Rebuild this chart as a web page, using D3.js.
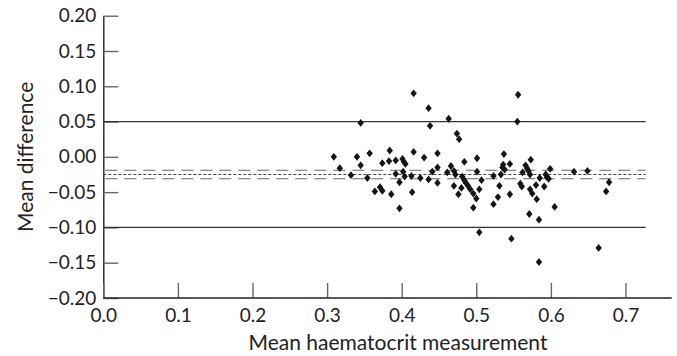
<!DOCTYPE html>
<html>
<head>
<meta charset="utf-8">
<script src="https://cdn.jsdelivr.net/npm/d3@7"></script>
<style>
  body { margin: 0; background: #fff; }
  text { font-family: Lato, "Noto Sans", sans-serif; fill: #222; }
</style>
</head>
<body>
<div id="chart"></div>
<script>
// Bland-Altman style plot: mean haematocrit vs mean difference

// x = mean haematocrit measurement, y = mean difference
const meanHct = [
  0.309, 0.317, 0.332, 0.340, 0.345, 0.345, 0.354, 0.357, 0.364, 0.371,
  0.374, 0.374, 0.383, 0.384, 0.386, 0.392, 0.392, 0.397, 0.397, 0.401,
  0.402, 0.403, 0.405, 0.404, 0.413, 0.414, 0.416, 0.416, 0.425, 0.430,
  0.436, 0.436, 0.438, 0.441, 0.448, 0.448, 0.448, 0.461, 0.463, 0.466,
  0.470, 0.472, 0.470, 0.474, 0.477, 0.476, 0.480, 0.481, 0.484, 0.484,
  0.486, 0.489, 0.492, 0.496, 0.496, 0.500, 0.501, 0.501, 0.504, 0.504,
  0.507, 0.523, 0.523, 0.529, 0.531, 0.533, 0.535, 0.537, 0.538, 0.545,
  0.545, 0.547, 0.555, 0.556, 0.559, 0.561, 0.562, 0.566, 0.568, 0.570,
  0.572, 0.573, 0.571, 0.572, 0.575, 0.580, 0.581, 0.584, 0.584, 0.585,
  0.591, 0.593, 0.595, 0.597, 0.599, 0.605, 0.631, 0.649, 0.664, 0.674,
  0.678, 0.536
];
const meanDiff = [
  0.000, -0.016, -0.026, 0.000, 0.048, -0.012, -0.030, 0.005, -0.049, -0.043,
  -0.048, -0.009, -0.006, 0.009, -0.053, -0.005, -0.024, -0.073, -0.036, -0.003,
  -0.021, -0.007, -0.010, -0.028, -0.027, -0.050, 0.090, 0.007, -0.030, -0.001,
  0.069, -0.032, 0.044, -0.021, 0.005, -0.015, -0.037, -0.022, 0.054, -0.013,
  -0.020, -0.025, -0.041, 0.033, 0.025, -0.053, -0.044, -0.028, -0.007, -0.033,
  -0.037, -0.041, -0.046, -0.052, -0.072, -0.059, -0.021, -0.002, -0.046, -0.107,
  -0.033, -0.027, -0.067, -0.057, -0.041, -0.025, -0.015, 0.004, -0.018, -0.010,
  -0.053, -0.116, 0.050, 0.088, -0.038, -0.042, -0.022, -0.012, -0.016, -0.020,
  -0.025, -0.004, -0.081, -0.046, -0.052, -0.040, -0.060, -0.089, -0.149, -0.030,
  -0.042, -0.025, -0.029, -0.031, -0.017, -0.071, -0.021, -0.020, -0.129, -0.049,
  -0.036, -0.011
];

// reference lines: limits of agreement (solid), mean (dotted), CI of mean (dashed)
const limitLines = [0.05, -0.10];
const meanLine = [-0.025];
const ciLines = [-0.019, -0.031];

const xTicks = [0, 0.1, 0.2, 0.3, 0.4, 0.5, 0.6, 0.7];
const yTicks = [-0.20, -0.15, -0.10, -0.05, 0.00, 0.05, 0.10, 0.15, 0.20];

const xAxisEnd = 0.762;   // where the x axis line stops
const refLineEnd = 0.727; // where the horizontal reference lines stop

const width = 677, height = 356;

const svg = d3.select('#chart').append('svg')
  .attr('width', width)
  .attr('height', height);

const x = d3.scaleLinear().domain([0, 0.7]).range([103.3, 625.5]);
const y = d3.scaleLinear().domain([-0.2, 0.2]).range([298, 15.7]);

// y axis (ticks point inward)
const yAxis = svg.append('g')
  .attr('transform', `translate(${x(0)},0)`)
  .call(d3.axisLeft(y).tickValues(yTicks).tickFormat(d3.format('.2f'))
    .tickSize(-15).tickSizeOuter(0).tickPadding(7));
yAxis.select('.domain').attr('stroke', '#222').attr('stroke-width', 1.4);
yAxis.selectAll('.tick line').attr('stroke', '#666').attr('stroke-width', 1.4);
yAxis.selectAll('.tick text').attr('font-size', 19).style('fill', '#222');

// x axis
const xAxis = svg.append('g')
  .attr('transform', `translate(0,${y(-0.2)})`)
  .call(d3.axisBottom(x).tickValues(xTicks).tickFormat(d3.format('.1f'))
    .tickSize(-15).tickSizeOuter(0).tickPadding(11));
xAxis.select('.domain').remove();
xAxis.selectAll('.tick line').attr('stroke', '#666').attr('stroke-width', 1.4);
xAxis.selectAll('.tick text').attr('font-size', 19).style('fill', '#222');
xAxis.append('line')
  .attr('x1', x(0)).attr('x2', x(xAxisEnd))
  .attr('stroke', '#222').attr('stroke-width', 1.4);

// horizontal reference lines
svg.selectAll('.limit')
  .data(limitLines)
  .enter().append('line')
  .attr('class', 'limit')
  .attr('x1', x(0)).attr('x2', x(refLineEnd))
  .attr('y1', d => y(d)).attr('y2', d => y(d))
  .attr('stroke', '#333').attr('stroke-width', 1.3);

svg.selectAll('.ci')
  .data(ciLines)
  .enter().append('line')
  .attr('class', 'ci')
  .attr('x1', x(0) + 2).attr('x2', x(refLineEnd))
  .attr('y1', d => y(d)).attr('y2', d => y(d))
  .attr('stroke', '#666').attr('stroke-width', 1.2)
  .attr('stroke-dasharray', '12,7');

svg.selectAll('.mean')
  .data(meanLine)
  .enter().append('line')
  .attr('class', 'mean')
  .attr('x1', x(0)).attr('x2', x(refLineEnd))
  .attr('y1', d => y(d)).attr('y2', d => y(d))
  .attr('stroke', '#444').attr('stroke-width', 1.1)
  .attr('stroke-dasharray', '3,2');

// diamond markers
const points = meanHct.map((v, i) => ({ x: v, y: meanDiff[i] }));
const diamond = 'M0,-3.9L3.2,0L0,3.9L-3.2,0Z';

svg.selectAll('.pt')
  .data(points)
  .enter().append('path')
  .attr('class', 'pt')
  .attr('d', diamond)
  .attr('transform', d => `translate(${x(d.x)},${y(d.y)})`)
  .attr('fill', '#151515');

// axis titles
svg.append('text')
  .attr('x', x(0.395))
  .attr('y', 350)
  .attr('text-anchor', 'middle')
  .attr('font-size', 21)
  .text('Mean haematocrit measurement');

svg.append('text')
  .attr('transform', `translate(33,${y(0)}) rotate(-90)`)
  .attr('text-anchor', 'middle')
  .attr('font-size', 21)
  .text('Mean difference');
</script>
</body>
</html>
